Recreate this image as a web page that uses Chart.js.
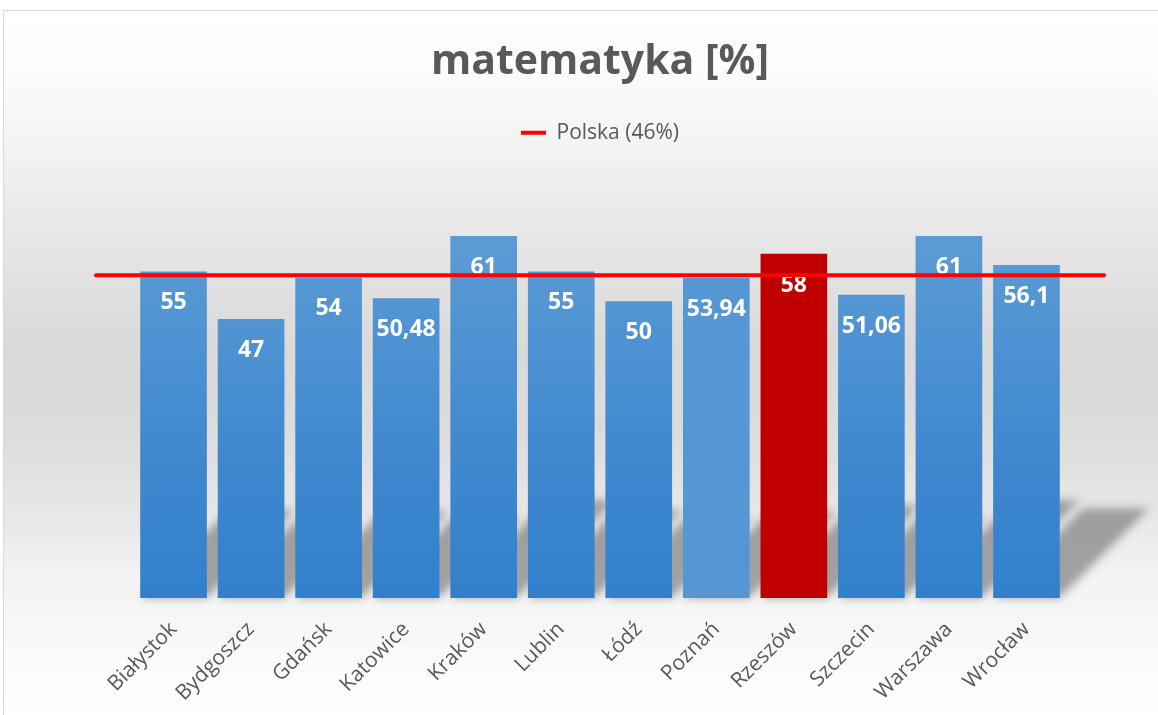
<!DOCTYPE html>
<html lang="pl">
<head>
<meta charset="utf-8">
<title>matematyka [%]</title>
<script src="https://cdn.jsdelivr.net/npm/chart.js@4.4.1/dist/chart.umd.min.js"></script>
<style>
    html, body { margin: 0; padding: 0; background: #ffffff; overflow: hidden; }
    #wrap {
        position: absolute;
        left: 3px;
        top: 10px;
        width: 1176px;
        height: 704px;
        border-left: 1px solid #d9d9d9;
        border-top: 1px solid #d9d9d9;
    }
    canvas { display: block; }
</style>
</head>
<body>
<div id="wrap">
    <canvas id="chart" width="1176" height="704"></canvas>
</div>
<script>
// dane
const cities = ['Białystok', 'Bydgoszcz', 'Gdańsk', 'Katowice', 'Kraków', 'Lublin',
    'Łódź', 'Poznań', 'Rzeszów', 'Szczecin', 'Warszawa', 'Wrocław'];
const scores = [55, 47, 54, 50.48, 61, 55, 50, 53.94, 58, 51.06, 61, 56.1];
const polskaLabel = 'Polska (46%)';
const polskaLevel = [54.4, 54.4];
// linia wychodzi o jedną kategorię poza skrajne słupki
const polskaSpan = [-1, cities.length];

const highlightCity = 'Rzeszów';
const flatCity = 'Poznań';
const textGray = '#595959';

Chart.defaults.font.family = "'Open Sans', 'Noto Sans', sans-serif";
Chart.defaults.color = textGray;

// tło + cień słupków
const backgroundPlugin = {
    id: 'backgroundPlugin',
    beforeDraw(chart) {
        const { ctx, width, height } = chart;
        const g = ctx.createLinearGradient(0, 0, 0, height);
        g.addColorStop(0, '#ffffff');
        g.addColorStop(60 / 704, '#fcfcfc');
        g.addColorStop(129 / 704, '#f4f4f4');
        g.addColorStop(190 / 704, '#ebebeb');
        g.addColorStop(339 / 704, '#d9d9d9');
        g.addColorStop(420 / 704, '#dcdcdc');
        g.addColorStop(496 / 704, '#e6e6e6');
        g.addColorStop(562 / 704, '#f2f2f2');
        g.addColorStop(640 / 704, '#fafafa');
        g.addColorStop(1, '#ffffff');
        ctx.save();
        ctx.fillStyle = g;
        ctx.fillRect(0, 0, width, height);
        ctx.restore();
    },
    beforeDatasetsDraw(chart) {
        const meta = chart.getDatasetMeta(0);
        const ctx = chart.ctx;
        ctx.save();
        ctx.filter = 'blur(4px)';
        ctx.fillStyle = 'rgba(140,140,140,0.8)';
        meta.data.forEach(bar => {
            const half = bar.width / 2;
            const h = (bar.base - bar.y) * 0.27;
            ctx.beginPath();
            ctx.moveTo(bar.x - half, bar.base);
            ctx.lineTo(bar.x + half, bar.base);
            ctx.lineTo(bar.x + half + h, bar.base - h);
            ctx.lineTo(bar.x - half + h, bar.base - h);
            ctx.closePath();
            ctx.fill();
        });
        ctx.restore();
    }
};

// etykiety wartości w słupkach
const valueLabels = {
    id: 'valueLabels',
    afterDatasetDraw(chart, args) {
        if (args.index !== 0) return;
        const ctx = chart.ctx;
        ctx.save();
        ctx.font = "bold 23px 'Open Sans', sans-serif";
        ctx.fillStyle = '#ffffff';
        ctx.textAlign = 'center';
        ctx.textBaseline = 'middle';
        args.meta.data.forEach((bar, i) => {
            const txt = String(scores[i]).replace('.', ',');
            ctx.fillText(txt, bar.x, bar.y + 31);
        });
        ctx.restore();
    }
};

function barColor(context) {
    const city = cities[context.dataIndex];
    if (city === highlightCity) return '#c00000';
    if (city === flatCity) return '#5596d3';
    const area = context.chart.chartArea;
    if (!area) return '#5b9bd5';
    const g = context.chart.ctx.createLinearGradient(0, area.top + 90, 0, area.bottom);
    g.addColorStop(0, '#5b9bd5');
    g.addColorStop(0.6, '#3f88cf');
    g.addColorStop(1, '#3280cc');
    return g;
}

const ctx = document.getElementById('chart').getContext('2d');
const chart = new Chart(ctx, {
    type: 'bar',
    data: {
        datasets: [
            {
                type: 'bar',
                label: 'matematyka',
                data: cities.map((c, i) => ({ x: i, y: scores[i] })),
                backgroundColor: barColor,
                borderWidth: 0,
                barThickness: 66,
                order: 1
            },
            {
                type: 'line',
                label: polskaLabel,
                data: polskaSpan.map((x, i) => ({ x: x, y: polskaLevel[i] })),
                borderColor: '#ff0000',
                backgroundColor: '#ff0000',
                borderWidth: 4,
                borderCapStyle: 'round',
                pointRadius: 0,
                pointStyle: 'line',
                clip: false,
                order: 0
            }
        ]
    },
    options: {
        responsive: false,
        animation: false,
        layout: {
            padding: { left: 92, right: 76, top: 0, bottom: 0 }
        },
        plugins: {
            title: {
                display: true,
                text: 'matematyka [%]',
                color: textGray,
                font: { size: 41, weight: 'bold' },
                padding: { top: 27, bottom: 25 }
            },
            legend: {
                display: true,
                labels: {
                    color: textGray,
                    font: { size: 21 },
                    usePointStyle: true,
                    pointStyleWidth: 25,
                    padding: 10,
                    filter: item => item.datasetIndex === 1
                }
            },
            tooltip: { enabled: false }
        },
        scales: {
            x: {
                type: 'linear',
                offset: false,
                min: polskaSpan[0],
                max: polskaSpan[1],
                grid: { display: false, drawTicks: false, offset: false },
                border: { display: false },
                ticks: {
                    stepSize: 1,
                    autoSkip: false,
                    minRotation: 45,
                    maxRotation: 45,
                    padding: 19,
                    color: textGray,
                    font: { size: 21 },
                    callback: value => cities[value] ?? ''
                },
                afterFit: scale => {
                    scale.height = 117;
                    scale.paddingLeft = 0;
                    scale.paddingRight = 0;
                }
            },
            y: {
                display: false,
                min: 0,
                max: 75
            }
        }
    },
    plugins: [backgroundPlugin, valueLabels]
});
</script>
</body>
</html>
